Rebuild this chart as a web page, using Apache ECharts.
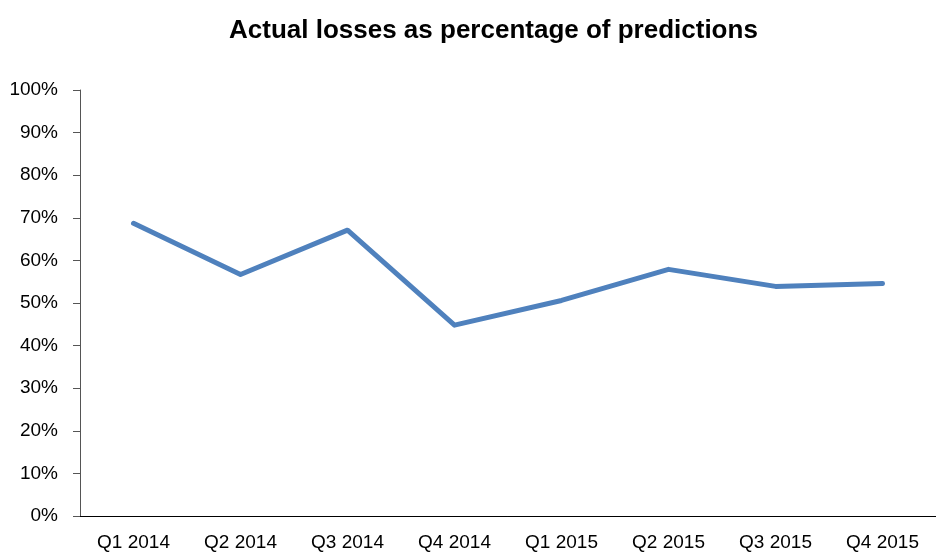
<!DOCTYPE html>
<html>
<head>
<meta charset="utf-8">
<script src="https://cdn.jsdelivr.net/npm/echarts@6/dist/echarts.min.js"></script>
<style>
  html, body { margin: 0; padding: 0; background: #fff; }
  #main { width: 936px; height: 553px; }
</style>
</head>
<body>
<div id="main"></div>
<script>
var FONT = '"Liberation Sans", Arial, sans-serif';

var quarters = ['Q1 2014', 'Q2 2014', 'Q3 2014', 'Q4 2014', 'Q1 2015', 'Q2 2015', 'Q3 2015', 'Q4 2015'];
var lossPct = [68.7, 56.7, 67.1, 44.8, 50.6, 57.9, 53.9, 54.6];

var chart = echarts.init(document.getElementById('main'));

var option = {
  animation: false,
  title: {
    text: 'Actual losses as percentage of predictions',
    left: 224,
    top: 13,
    textStyle: { fontFamily: FONT, fontSize: 26, fontWeight: 'bold', color: '#000' }
  },
  grid: {
    left: 80,
    top: 90,
    width: 864,
    height: 426
  },
  xAxis: {
    type: 'category',
    data: quarters,
    boundaryGap: true,
    axisLine: { lineStyle: { color: '#000', width: 1 } },
    axisTick: { length: 5, lineStyle: { color: '#555' } },
    axisLabel: { fontFamily: FONT, fontSize: 19, color: '#000', margin: 17, interval: 0 }
  },
  yAxis: {
    type: 'value',
    min: 0,
    max: 100,
    interval: 10,
    splitLine: { show: false },
    axisLine: { show: true, lineStyle: { color: '#555', width: 1 } },
    axisTick: { show: true, length: 7, lineStyle: { color: '#555' } },
    axisLabel: {
      fontFamily: FONT, fontSize: 19, color: '#000', margin: 22,
      formatter: '{value}%'
    }
  },
  series: [{
    type: 'line',
    data: lossPct,
    symbol: 'none',
    lineStyle: { color: '#4f81bd', width: 5, cap: 'round', join: 'round' }
  }]
};

chart.setOption(option);
</script>
</body>
</html>
